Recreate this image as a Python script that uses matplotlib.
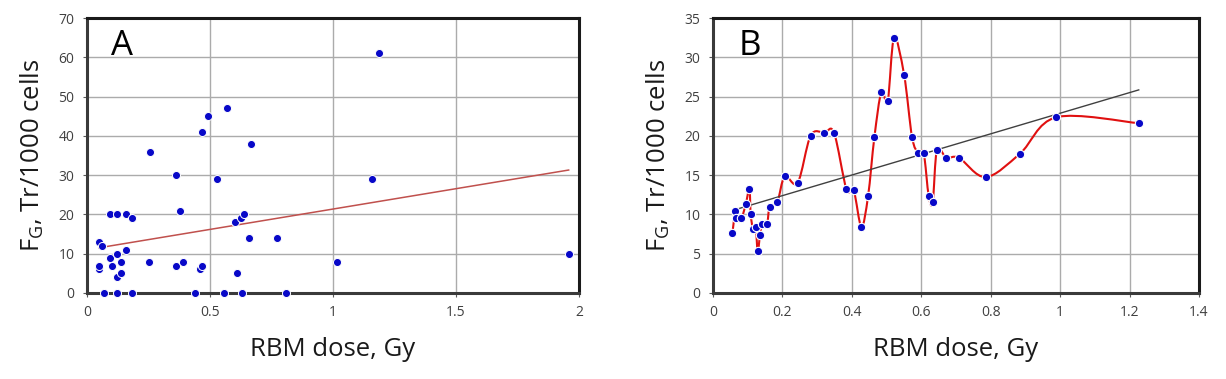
import numpy as np
import matplotlib
matplotlib.use("Agg")
import matplotlib.pyplot as plt
from matplotlib.path import Path
from matplotlib.patches import PathPatch

# ---------------- Data ----------------
# Panel A: scatter
a_dose = [0.048, 0.048, 0.048, 0.061, 0.070, 0.092, 0.092, 0.100, 0.123, 0.123,
          0.123, 0.123, 0.140, 0.140, 0.160, 0.160, 0.182, 0.182, 0.250, 0.258,
          0.361, 0.361, 0.378, 0.390, 0.439, 0.459, 0.468, 0.468, 0.490, 0.527,
          0.558, 0.569, 0.600, 0.608, 0.628, 0.630, 0.638, 0.660, 0.667, 0.771,
          0.809, 1.017, 1.159, 1.188, 1.958]
a_fg = [6, 7, 13, 12, 0, 20, 9, 7, 20, 10,
        4, 0, 8, 5, 20, 11, 19, 0, 8, 36,
        30, 7, 21, 8, 0, 6, 41, 7, 45, 29,
        0, 47, 18, 5, 19, 0, 20, 14, 38, 14,
        0, 8, 29, 61, 10]
a_trend_x = [0.048, 1.958]
a_trend_y = [11.5, 31.3]

# Panel B: smoothed line with markers
b_dose = [0.0558, 0.0644, 0.0673, 0.0817, 0.0942, 0.1048, 0.1086, 0.1153, 0.1230, 0.1288,
          0.1355, 0.1413, 0.1557, 0.1634, 0.1855, 0.2066, 0.2440, 0.2815, 0.3209, 0.3487,
          0.3843, 0.4054, 0.4275, 0.4467, 0.4649, 0.4851, 0.5033, 0.5216, 0.5504, 0.5734,
          0.5917, 0.6070, 0.6214, 0.6330, 0.6454, 0.6723, 0.7088, 0.7856, 0.8846, 0.9892,
          1.2264]
b_fg = [7.58, 10.42, 9.53, 9.53, 11.27, 13.22, 10.04, 8.14, 8.43, 5.34,
        7.42, 8.81, 8.81, 10.93, 11.61, 14.83, 14.03, 20.04, 20.38, 20.38,
        13.22, 13.05, 8.43, 12.33, 19.83, 25.64, 24.41, 32.46, 27.80, 19.83,
        17.80, 17.80, 12.33, 11.61, 18.26, 17.20, 17.20, 14.75, 17.75, 22.37,
        21.61]
b_trend_x = [0.0558, 1.2264]
b_trend_y = [10.5, 25.85]

x_label = "RBM dose, Gy"
y_label = r"F$_\mathregular{G}$, Tr/1000 cells"

# ---------------- Style ----------------
plt.rcParams['font.family'] = ['Open Sans', 'DejaVu Sans']
plt.rcParams['mathtext.fontset'] = 'custom'
plt.rcParams['mathtext.rm'] = 'Open Sans'

BLUE = '#0808C8'
GRID = '#ABABAB'
TICKC = '#595959'

fig = plt.figure(figsize=(12.26, 3.79), dpi=100)
axA = fig.add_axes([87/1226, 86/379, 492/1226, 275/379])
axB = fig.add_axes([713/1226, 86/379, 486/1226, 275/379])


def style(ax, xlim, ylim, xticks, yticks, xfmt):
    ax.set_xlim(*xlim)
    ax.set_ylim(*ylim)
    ax.set_xticks(xticks)
    ax.set_xticklabels([xfmt(t) for t in xticks])
    ax.set_yticks(yticks)
    ax.set_yticklabels([f"{t:g}" for t in yticks])
    ax.grid(True, color=GRID, lw=1.0, zorder=0)
    ax.set_axisbelow(True)
    for s in ax.spines.values():
        s.set_linewidth(2.2)
        s.set_color('#1a1a1a')
    ax.spines['left'].set_color('#3a3a3a')
    ax.spines['bottom'].set_color('#3a3a3a')
    ax.tick_params(axis='both', labelsize=10, colors=TICKC, length=3,
                   width=0.8, pad=6)
    ax.tick_params(axis='both', labelcolor='#404040')
    ax.set_xlabel(x_label, fontsize=18.5, color='#1a1a1a', labelpad=12)
    ax.set_ylabel(y_label, fontsize=18.5, color='#1a1a1a', labelpad=9)


def fmt_num(t):
    s = f"{t:.1f}"
    if s.endswith(".0"):
        s = s[:-2]
    return s


# Panel A
style(axA, (0, 2), (0, 70), [0, 0.5, 1, 1.5, 2], list(range(0, 71, 10)), fmt_num)
axA.plot(a_trend_x, a_trend_y, color='#C0504D', lw=1.1, zorder=3)
axA.plot(a_dose, a_fg, 'o', color=BLUE, ms=5.8, mec='white', mew=0.7,
         zorder=5, clip_on=False)
axA.text(0.048, 0.866, "A", transform=axA.transAxes, fontsize=25,
         color='black', family=['Open Sans', 'DejaVu Sans'])

# Panel B
style(axB, (0, 1.4), (0, 35), [0, 0.2, 0.4, 0.6, 0.8, 1, 1.2, 1.4],
      list(range(0, 36, 5)), fmt_num)

# Excel-like smoothed line: Catmull-Rom converted to cubic Bezier segments
P = np.column_stack([b_dose, b_fg])
n = len(P)
verts = [tuple(P[0])]
codes = [Path.MOVETO]
for i in range(n - 1):
    p0 = P[i - 1] if i > 0 else P[i]
    p1 = P[i]
    p2 = P[i + 1]
    p3 = P[i + 2] if i + 2 < n else P[i + 1]
    c1 = p1 + (p2 - p0) / 6.0
    c2 = p2 - (p3 - p1) / 6.0
    verts += [tuple(c1), tuple(c2), tuple(p2)]
    codes += [Path.CURVE4, Path.CURVE4, Path.CURVE4]
axB.add_patch(PathPatch(Path(verts, codes), facecolor='none',
                        edgecolor='#E01010', lw=1.5, zorder=3))
axB.plot(b_trend_x, b_trend_y, color='#404040', lw=1.0, zorder=4)
axB.plot(b_dose, b_fg, 'o', color=BLUE, ms=6.0, mec='white', mew=0.8,
         zorder=5, clip_on=False)
axB.text(0.052, 0.866, "B", transform=axB.transAxes, fontsize=25,
         color='black', family=['Open Sans', 'DejaVu Sans'])

fig.savefig("out.png", dpi=100)
